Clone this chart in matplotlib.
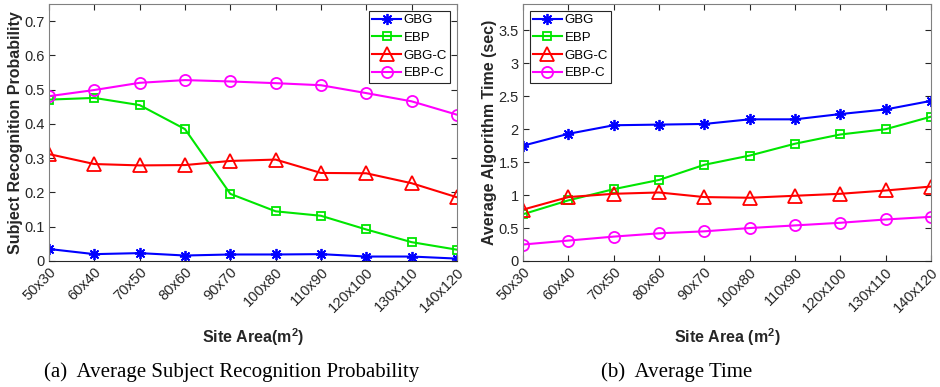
import matplotlib
matplotlib.use('Agg')
import matplotlib.pyplot as plt

plt.rcParams['font.family'] = ['Liberation Sans', 'DejaVu Sans']
plt.rcParams['mathtext.fontset'] = 'custom'
plt.rcParams['mathtext.rm'] = 'Liberation Sans'
plt.rcParams['mathtext.bf'] = 'Liberation Sans:bold'

sites = ['50x30', '60x40', '70x50', '80x60', '90x70',
         '100x80', '110x90', '120x100', '130x110', '140x120']
series = ['GBG', 'EBP', 'GBG-C', 'EBP-C']

# recognition probability per site size
prob_gbg = [0.035, 0.020, 0.023, 0.016, 0.019, 0.019, 0.020, 0.013, 0.013, 0.007]
prob_ebp = [0.471, 0.476, 0.455, 0.385, 0.196, 0.145, 0.132, 0.092, 0.055, 0.033]
prob_gbgc = [0.312, 0.283, 0.279, 0.280, 0.292, 0.296, 0.257, 0.256, 0.227, 0.186]
prob_ebpc = [0.481, 0.499, 0.520, 0.528, 0.524, 0.519, 0.513, 0.490, 0.466, 0.427]

# mean running time (sec)
time_gbg = [1.75, 1.93, 2.06, 2.07, 2.08, 2.15, 2.15, 2.23, 2.30, 2.43]
time_ebp = [0.71, 0.92, 1.09, 1.23, 1.46, 1.60, 1.78, 1.92, 2.00, 2.19]
time_gbgc = [0.78, 0.97, 1.02, 1.04, 0.97, 0.96, 0.99, 1.02, 1.07, 1.13]
time_ebpc = [0.25, 0.31, 0.37, 0.42, 0.45, 0.50, 0.54, 0.58, 0.63, 0.67]

# (color, marker, size); the asterisk is an 8-spoke star like matlab's '*'
styles = [('#0000ff', (8, 2, 0), 8), ('#00e600', 's', 6),
          ('#ff0000', '^', 9.5), ('#ff00ff', 'o', 8)]

fig = plt.figure(figsize=(9.4, 3.87), dpi=100)
ax1 = fig.add_axes([0.0521, 0.3256, 0.434, 0.664])
ax2 = fig.add_axes([0.5564, 0.3256, 0.434, 0.664])


def draw(ax, data, ylim, yticks, yticklabels, ylabel, xlabel, legend_loc):
    x = range(len(sites))
    for vals, name, (c, m, ms) in zip(data, series, styles):
        ax.plot(x, vals, color=c, marker=m, markersize=ms, markerfacecolor='none',
                markeredgecolor=c, markeredgewidth=1.3, linewidth=1.5, label=name)
    ax.set_xlim(0, len(sites) - 1)
    ax.set_ylim(*ylim)
    ax.set_xticks(list(x))
    ax.set_xticklabels(sites, rotation=45, ha='right', rotation_mode='anchor', fontsize=10.5)
    ax.set_yticks(yticks)
    ax.set_yticklabels(yticklabels, fontsize=10.5)
    ax.tick_params(direction='in', top=True, right=True, length=4, width=0.8,
                   colors='#262626', pad=3)
    for s in ['left', 'right', 'top']:
        ax.spines[s].set_color('#808080')
    ax.spines['bottom'].set_color('#262626')
    ax.set_ylabel(ylabel, fontsize=11.5, fontweight='bold', color='#262626', labelpad=1)
    ax.set_xlabel(xlabel, fontsize=11.5, fontweight='bold', color='#262626', labelpad=8)
    leg = ax.legend(loc=legend_loc, fontsize=9.5, fancybox=False, framealpha=1,
                    edgecolor='#262626', handlelength=2.2, handletextpad=0.2,
                    labelspacing=0.42, borderpad=0.25, borderaxespad=0.5)
    leg.get_frame().set_linewidth(0.8)


draw(ax1, [prob_gbg, prob_ebp, prob_gbgc, prob_ebpc], (0, 0.75),
     [0, 0.1, 0.2, 0.3, 0.4, 0.5, 0.6, 0.7],
     ['0', '0.1', '0.2', '0.3', '0.4', '0.5', '0.6', '0.7'],
     'Subject Recognition Probability', 'Site Area(m$^\\mathbf{2}$)', 'upper right')
draw(ax2, [time_gbg, time_ebp, time_gbgc, time_ebpc], (0, 3.9),
     [0, 0.5, 1, 1.5, 2, 2.5, 3, 3.5],
     ['0', '0.5', '1', '1.5', '2', '2.5', '3', '3.5'],
     'Average Algorithm Time (sec)', 'Site Area (m$^\\mathbf{2}$)', 'upper left')

fig.text(232 / 940, 1 - 372 / 387, '(a)  Average Subject Recognition Probability',
         ha='center', va='center', fontsize=15, family=['Liberation Serif', 'DejaVu Serif'])
fig.text(677 / 940, 1 - 372 / 387, '(b)  Average Time',
         ha='center', va='center', fontsize=15, family=['Liberation Serif', 'DejaVu Serif'])

fig.savefig('out.png', dpi=100)
